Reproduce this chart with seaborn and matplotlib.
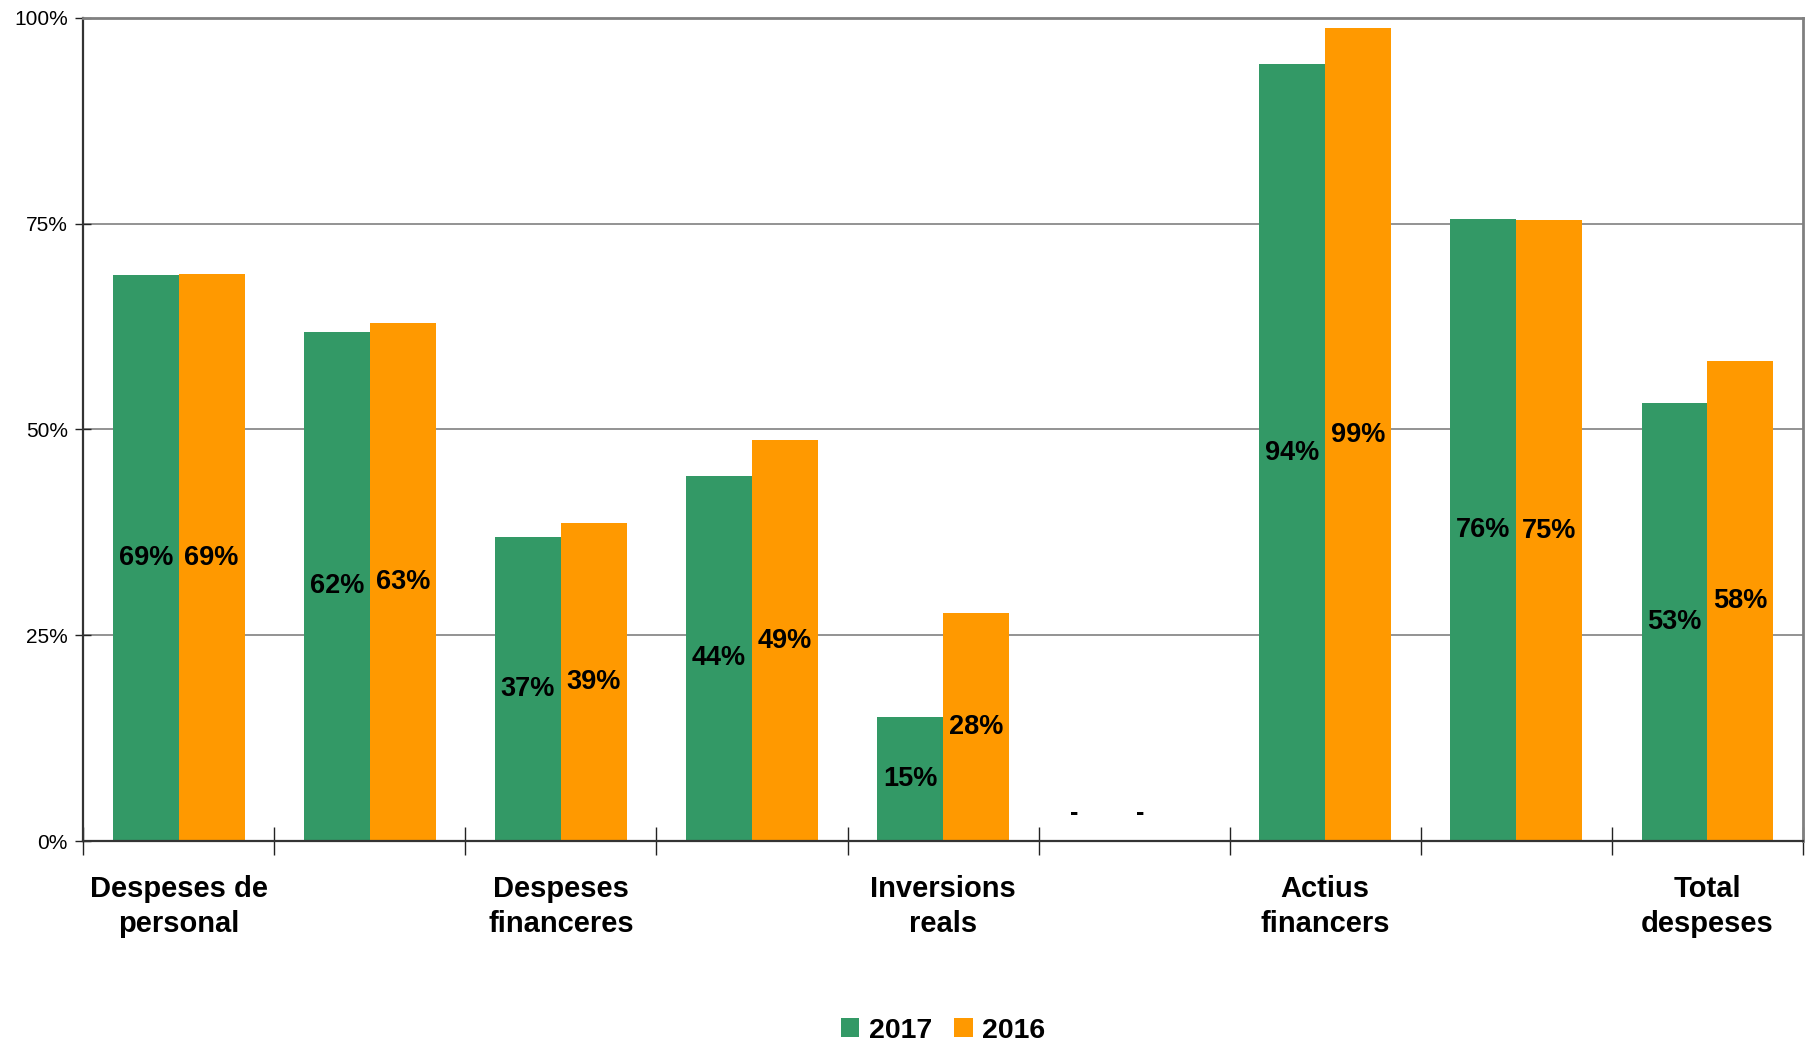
import pandas as pd
import seaborn as sns
import matplotlib.pyplot as plt
from matplotlib.ticker import FixedLocator

categories = ["Despeses de personal", "Despeses corrents en béns i serveis",
              "Despeses financeres", "Transferències corrents", "Inversions reals",
              "Transferències de capital", "Actius financers", "Passius financers",
              "Total despeses"]
tick_labels = ["Despeses de\npersonal", "", "Despeses\nfinanceres", "", "Inversions\nreals",
               "", "Actius\nfinancers", "", "Total\ndespeses"]
years = ["2017", "2016"]
vals_2017 = [68.8, 61.9, 37.0, 44.4, 15.1, 0.0, 94.4, 75.6, 53.2]
vals_2016 = [68.9, 62.9, 38.6, 48.7, 27.7, 0.0, 98.7, 75.4, 58.3]
colors = ["#339966", "#FF9900"]

df = pd.DataFrame({
    "cat": categories * 2,
    "year": [years[0]] * len(categories) + [years[1]] * len(categories),
    "val": vals_2017 + vals_2016,
})

sns.set_style("white")
plt.rcParams["font.family"] = ["Liberation Sans", "DejaVu Sans"]
plt.rcParams["text.color"] = "black"
plt.rcParams["xtick.labelcolor"] = "black"
plt.rcParams["ytick.labelcolor"] = "black"

fig = plt.figure(figsize=(18.07, 10.45), dpi=100)
ax = fig.add_axes([0.046, 0.195, 0.9518, 0.788])

sns.barplot(data=df, x="cat", y="val", hue="year", order=categories, hue_order=years,
            palette=colors, width=0.69, saturation=1, linewidth=0, edgecolor="none",
            ax=ax, legend=True)

for cont in ax.containers:
    labels = []
    for bar in cont:
        h = bar.get_height()
        if h == 0:
            # Excel puts the "-" for zero values a bit left of the bar and above the axis
            ax.annotate("-", (bar.get_x() + bar.get_width() / 2, 0), xytext=(-27, 28),
                        textcoords="offset pixels", ha="center", va="center",
                        fontsize=18, fontweight="bold")
            labels.append("")
        else:
            labels.append(f"{h:.0f}%")
    ax.bar_label(cont, labels=labels, label_type="center", fontsize=19.5, fontweight="bold")

ax.set_ylim(0, 100)
ax.set_xlim(-0.5, len(categories) - 0.5)
ax.set_yticks([0, 25, 50, 75, 100])
ax.set_yticklabels(["0%", "25%", "50%", "75%", "100%"], fontsize=15)
ax.yaxis.grid(True, color="#808080", linewidth=1.2)
ax.set_axisbelow(True)

ax.set_xticks(range(len(categories)))
ax.set_xticklabels(tick_labels, fontsize=21, fontweight="bold", linespacing=1.35)
ax.xaxis.set_minor_locator(FixedLocator([i - 0.5 for i in range(len(categories) + 1)]))
ax.tick_params(axis="x", which="major", bottom=True, length=0, pad=24)
ax.tick_params(axis="x", which="minor", bottom=True, length=20, direction="inout",
               width=1, color="#222222")
ax.tick_params(axis="y", left=True, length=12, direction="inout", width=1, color="#222222", pad=5)
ax.set_xlabel("")
ax.set_ylabel("")

for side in ["left", "bottom"]:
    ax.spines[side].set_color("#333333")
    ax.spines[side].set_linewidth(1.6)
for side in ["top", "right"]:
    ax.spines[side].set_color("#808080")
    ax.spines[side].set_linewidth(2)

handles, labels = ax.get_legend_handles_labels()
ax.get_legend().remove()
fig.legend(handles, labels, loc="center", bbox_to_anchor=(0.522, 0.0135), ncol=2,
           frameon=False, handlelength=0.65, handleheight=0.65, handletextpad=0.35,
           columnspacing=0.75, prop={"size": 20.5, "weight": "bold"})

fig.savefig("out.png", dpi=100)
